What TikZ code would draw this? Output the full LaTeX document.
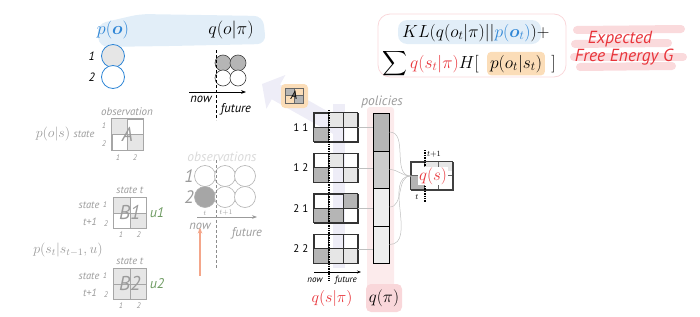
\RequirePackage{fix-cm}
\documentclass[tikz,border=0pt]{standalone}
\usepackage{amsmath}
\usepackage{fontspec}
\setsansfont{PT Sans}
\usetikzlibrary{arrows.meta,positioning}

\definecolor{fepblue}{HTML}{2F86D6}
\definecolor{fepband}{HTML}{E2EEF8}
\definecolor{fepred}{HTML}{E8343A}
\definecolor{feppink}{HTML}{F7C6CA}
\definecolor{feporange}{HTML}{FBDDB8}
\definecolor{fepgreen}{HTML}{6E9B62}
\definecolor{fepgray}{HTML}{9B9B9B}
\definecolor{feplav}{HTML}{EEEDF7}
\definecolor{fepsalmon}{HTML}{F4A68A}
\definecolor{cellDark}{HTML}{B5B5B5}
\definecolor{cellLight}{HTML}{E6E6E6}

\newcommand{\fepfs}[1]{\fontsize{#1}{#1}\selectfont}

\tikzset{
  lbl/.style={font=\sffamily\itshape\fepfs{11}, text=fepgray, inner sep=0pt},
  tinylbl/.style={font=\sffamily\itshape\fepfs{8}, text=fepgray, inner sep=0pt},
  numlbl/.style={font=\sffamily\itshape\fepfs{12}, inner sep=0pt},
  mathlbl/.style={font=\fepfs{18}, inner sep=1pt},
  pocirc/.style={circle, draw=fepblue, line width=0.8pt, minimum size=23pt, inner sep=0pt},
  qocirc/.style={circle, draw=black!75, line width=0.6pt, minimum size=16pt, inner sep=0pt},
  obscirc/.style={circle, draw=black!30, line width=0.6pt, minimum size=21pt, inner sep=0pt},
  matbox/.style={draw=black!35, line width=0.6pt, minimum width=31pt, minimum height=31pt, inner sep=0pt},
  polgrid/.style={draw=black!80, line width=0.8pt, minimum width=44pt, minimum height=29pt, inner sep=0pt},
  polcell/.style={draw=black, line width=1pt, minimum width=16pt, inner sep=0pt},
  pollbl/.style={font=\sffamily\fepfs{11}, inner sep=0pt},
  polline/.style={draw=black!25, line width=0.6pt},
  fanline/.style={draw=black!25, line width=0.5pt},
  exstroke/.style={draw=feppink, line width=8pt, line cap=round, opacity=0.65},
  nowdash/.style={line width=1.3pt, dash pattern=on 1.4pt off 1pt}
}

\begin{document}
\begin{tikzpicture}[x=1pt, y=-1pt]
\useasboundingbox (0,0) rectangle (700,316);

% highlight bands
\fill[fepband, rounded corners=9pt] (97,24) -- (140,14) -- (263,16) -- (266,44) -- (170,46) -- (99,47) -- cycle;
\fill[feplav] (333,104) rectangle (345,268);
\draw[feplav, line width=17pt, -{Triangle[width=38pt,length=16pt]}] (340,128) -- (262,84);

% prior preferences and predicted observations
\node[mathlbl, text=fepblue] (potext) at (113,30) {$p(\boldsymbol{o})$};
\node[mathlbl] (qotext) at (231,30) {$q(o|\pi)$};
\node[pocirc, fill=cellLight] (po1) at (113,56) {};
\node[pocirc, fill=white] (po2) at (113,77) {};
\node[numlbl, left=6pt of po1] (po1lbl) {1};
\node[numlbl, left=6pt of po2] (po2lbl) {2};

\foreach \n/\x/\y/\f in {11/223/63/cellDark, 12/238/63/cellDark, 21/223/78/white, 22/238/78/white}
  \node[qocirc, fill=\f] (qo\n) at (\x,\y) {};
\draw[densely dashed, line width=0.7pt] (216,50) -- (216,120);
\draw[-{Stealth[length=5pt]}, line width=0.8pt] (189,92) -- (246,92);
\node[numlbl, font=\sffamily\itshape\fepfs{12.5}] (qonow) at (201,99) {now};
\node[numlbl, font=\sffamily\itshape\fepfs{12.5}] (qofuture) at (236,109) {future};

% formula
\draw[feppink!70, line width=0.8pt, rounded corners=12pt] (378,14) rectangle (566,77);
\fill[fepband, rounded corners=9pt] (398,20) rectangle (541,44);
\node[font=\fepfs{17.5}, inner sep=0pt, anchor=base west] (kl) at (402,37) {$KL(q(o_t|\pi)||\textcolor{fepblue}{p(\boldsymbol{o}_t)})+$};
\node[font=\fepfs{17.5}, inner sep=0pt, anchor=base west] (sumpart) at (382,68) {$\displaystyle\sum \textcolor{fepred}{q(s_t|\pi)}H[$};
\node[font=\fepfs{17.5}, inner sep=3pt, fill=feporange, rounded corners=4pt, anchor=base west] (pots) at ([xshift=8pt]sumpart.base east) {$p(o_t|s_t)$};
\node[font=\fepfs{17.5}, inner sep=0pt, anchor=base west] (bra) at ([xshift=6pt]pots.base east) {$]$};

% expected free energy label
\draw[exstroke] (577,30) -- (681,29);
\draw[exstroke] (575,44) -- (668,43);
\draw[exstroke] (574,57) -- (683,57);
\draw[exstroke] (580,67) -- (672,66);
\node[font=\sffamily\itshape\fepfs{17.5}, text=fepred, inner sep=0pt] (efe1) at (620,39) {Expected};
\node[font=\sffamily\itshape\fepfs{17.5}, text=fepred, inner sep=0pt] (efe2) at (624,57) {Free Energy G};

% small A matrix
\fill[feporange, rounded corners=4pt] (281,84) rectangle (308,108);
\node[draw=black!60, line width=0.5pt, minimum width=18pt, minimum height=15pt, inner sep=0pt] (asmall) at (294,95.5) {};
\fill[cellDark] (asmall.north west) rectangle (asmall.center);
\fill[cellDark] (asmall.center) rectangle (asmall.south east);
\draw[black!60, line width=0.5pt] (asmall.north) -- (asmall.south) (asmall.west) -- (asmall.east);
\draw[black!60, line width=0.5pt] (asmall.north west) rectangle (asmall.south east);
\node[font=\sffamily\itshape\fepfs{12}, inner sep=0pt] at (asmall) {A};

% policies
\node[lbl, font=\sffamily\itshape\fepfs{13.5}] (poltitle) at (382,102) {policies};
\fill[feppink!35, rounded corners=3pt] (367,107) rectangle (394,291);
\node[polcell, fill=cellDark, minimum height=38pt] (pol1) at (381,132) {};
\node[polcell, fill=black!20, minimum height=37pt] (pol2) at (381,169.5) {};
\node[polcell, fill=black!7, minimum height=38pt] (pol3) at (381,207) {};
\node[polcell, fill=black!7, minimum height=37pt] (pol4) at (381,244.5) {};

% policy grids
\foreach \i/\t/\pname/\cells in {
    1/113/{1 1}/{1/0/cellLight, 2/0/cellLight, 0/1/cellDark},
    2/153.5/{1 2}/{1/0/cellLight, 0/1/cellDark, 2/1/cellLight},
    3/194/{2 1}/{2/0/cellDark, 0/1/cellDark, 1/1/cellDark},
    4/234.5/{2 2}/{0/1/cellDark, 1/1/cellLight, 2/1/cellLight}} {
  \node[polgrid] (g\i) at (336,\t+14.5) {};
  \begin{scope}[shift={(g\i.north west)}, x=14.667pt, y=-14.5pt]
    \foreach \c/\r/\f in \cells
      \fill[\f] (\c,\r) rectangle ++(1,1);
    \draw[black!80, line width=0.6pt] (1,0) -- (1,2) (2,0) -- (2,2) (0,1) -- (3,1);
    \draw[black!80, line width=0.8pt] (0,0) rectangle (3,2);
  \end{scope}
  \node[pollbl, left=5pt of g\i] (gl\i) {\pname};
  \draw[polline] (g\i.east) -- (g\i.east -| pol\i.west);
}
\draw[nowdash] (329,110) -- (329,281);
\draw[-{Stealth[length=4pt]}, line width=0.7pt] (314,272) -- (361,272);
\node[font=\sffamily\itshape\fepfs{9}, inner sep=0pt] (pnow) at (315,280) {now};
\node[font=\sffamily\itshape\fepfs{9}, inner sep=0pt] (pfuture) at (346,280) {future};

\node[mathlbl, font=\fepfs{16}, text=fepred] (qspi) at (332,298) {$q(s|\pi)$};
\fill[feppink!70, rounded corners=5pt] (366,284) rectangle (402,312);
\node[mathlbl, font=\fepfs{17}] (qpi) at (384,298) {$q(\pi)$};

% posterior over states
\node[draw=black!75, line width=0.7pt, minimum width=42pt, minimum height=28pt, inner sep=0pt] (qs) at (432,176) {};
\begin{scope}[shift={(qs.north west)}, x=14pt, y=-14pt]
  \fill[cellLight] (1,0) rectangle (3,0.7);
  \fill[cellDark] (0,1) rectangle (1,2);
  \draw[black!60, line width=0.5pt] (1,0) -- (1,2) (2,0) -- (2,2) (0,1) -- (3,1);
  \draw[black!75, line width=0.7pt] (0,0) rectangle (3,2);
\end{scope}
\draw[nowdash] (425,150) -- (425,202);
\node[font=\fepfs{17}, text=fepred, fill=white, inner sep=1pt] (qstext) at (433,176) {$q(s)$};
\node[font=\fepfs{8}, inner sep=0pt] (qsnext) at (434,154) {$t{+}1$};
\node[font=\fepfs{8}, inner sep=0pt] (qsnow) at (417,197) {$t$};
\foreach \i in {1,...,4}
  \draw[fanline] (pol\i.east) to[out=0, in=180] (qs.west);

% generative model: likelihood
\node[lbl] (obstitle) at (127,112) {observation};
\node[font=\fepfs{14}, text=fepgray, inner sep=0pt] (poslbl) at (53,134) {$p(o|s)$};
\node[lbl, font=\sffamily\itshape\fepfs{10.5}] (astate) at (84,134) {state};
\node[matbox] (amat) at (127.5,134.5) {};
\fill[cellLight] (amat.north west) rectangle (amat.center);
\fill[cellLight] (amat.center) rectangle (amat.south east);
\draw[black!35, line width=0.6pt] (amat.north) -- (amat.south) (amat.west) -- (amat.east);
\draw[black!35, line width=0.6pt] (amat.north west) rectangle (amat.south east);
\node[font=\sffamily\itshape\fepfs{20}, text=fepgray, inner sep=0pt] (atext) at (amat) {A};
\node[tinylbl] (ar1) at (104,126) {1};
\node[tinylbl] (ar2) at (104,144) {2};
\node[tinylbl] (ac1) at (118,158) {1};
\node[tinylbl] (ac2) at (135,158) {2};

% observations over time
\node[lbl, font=\sffamily\itshape\fepfs{13.5}, text=black!15] (obsall) at (222,157) {observations};
\foreach \n/\x/\y/\f in {11/205/176/white, 12/225/176/white, 13/245/176/white,
                         21/205/197/black!35, 22/225/197/white, 23/245/197/white}
  \node[obscirc, fill=\f] (ob\n) at (\x,\y) {};
\node[lbl, font=\sffamily\itshape\fepfs{18}] (ob1lbl) at (189,176) {1};
\node[lbl, font=\sffamily\itshape\fepfs{18}] (ob2lbl) at (189,197) {2};
\draw[black!45, densely dashed, line width=0.6pt] (216,160) -- (216,268);
\node[font=\fepfs{7}, text=fepgray, inner sep=0pt] (obt) at (205,213) {$t$};
\node[font=\fepfs{7}, text=fepgray, inner sep=0pt] (obt1) at (226,213) {$t{+}1$};
\draw[fepgray, -{Stealth[length=5pt]}, line width=0.8pt] (197,217) -- (257,217);
\node[lbl, font=\sffamily\itshape\fepfs{12.5}] (obnow) at (200,226) {now};
\node[lbl, font=\sffamily\itshape\fepfs{12.5}] (obfuture) at (247,233) {future};
\coordinate (salmonfoot) at (200,276);
\draw[fepsalmon, line width=1.1pt, -{Stealth[length=6pt]}] (salmonfoot) -- ([yshift=2pt]obnow.south);

% generative model: transitions
\foreach \k/\t in {1/197, 2/268} {
  \node[matbox, minimum width=33pt, minimum height=31pt, anchor=north west] (bmat\k) at (113,\t) {};
  \node[lbl, font=\sffamily\itshape\fepfs{10.5}] (bst\k) at ([yshift=7pt]bmat\k.north) {state t};
  \node[lbl, font=\sffamily\itshape\fepfs{10.5}] (bsl\k) at ([xshift=-24pt,yshift=-8pt]bmat\k.north west) {state};
  \node[lbl, font=\sffamily\itshape\fepfs{10.5}] (btl\k) at ([xshift=-23pt,yshift=7pt]bmat\k.south west) {t+1};
  \node[tinylbl] (br1\k) at ([xshift=-8pt,yshift=-8pt]bmat\k.north west) {1};
  \node[tinylbl] (br2\k) at ([xshift=-7pt,yshift=5pt]bmat\k.south west) {2};
  \node[tinylbl] (bc1\k) at ([xshift=8pt,yshift=-6pt]bmat\k.south west) {1};
  \node[tinylbl] (bc2\k) at ([xshift=-8pt,yshift=-6pt]bmat\k.south east) {2};
  \node[font=\sffamily\itshape\fepfs{14}, text=fepgreen, inner sep=0pt, right=3pt of bmat\k] (bu\k) {u\k};
}
\fill[cellLight] (bmat1.north west) rectangle (bmat1.center);
\fill[cellLight] (bmat1.center) rectangle (bmat1.south east);
\fill[cellLight] (bmat2.north west) rectangle (bmat2.south east);
\foreach \k in {1,2} {
  \draw[black!35, line width=0.6pt] (bmat\k.north) -- (bmat\k.south) (bmat\k.west) -- (bmat\k.east);
  \draw[black!35, line width=0.6pt] (bmat\k.north west) rectangle (bmat\k.south east);
  \node[font=\sffamily\itshape\fepfs{20}, text=fepgray, inner sep=0pt] (btext\k) at (bmat\k) {B\k};
}
\node[font=\fepfs{14}, text=fepgray, inner sep=0pt] (psslbl) at (68,250) {$p(s_t|s_{t-1},u)$};
\end{tikzpicture}
\end{document}
